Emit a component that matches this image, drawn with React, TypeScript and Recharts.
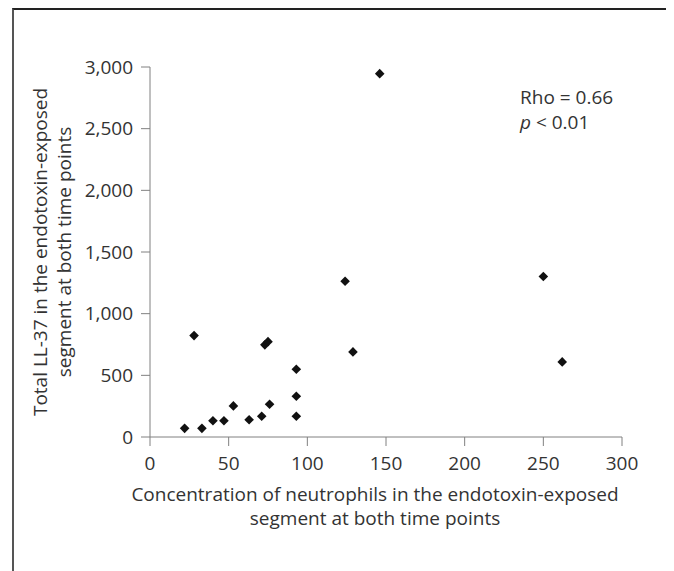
import React from "react";
import { ScatterChart, Scatter, XAxis, YAxis, Customized } from "recharts";

const neutrophils = [22, 28, 33, 40, 47, 53, 63, 71, 73, 75, 76, 93, 93, 93, 146, 124, 129, 250, 262];
const ll37 = [70, 822, 70, 132, 132, 252, 140, 168, 747, 773, 265, 549, 330, 168, 2946, 1263, 690, 1301, 609];
const xTicks = [0, 50, 100, 150, 200, 250, 300];
const yTicks = [0, 500, 1000, 1500, 2000, 2500, 3000];
const xLabelLines = ["Concentration of neutrophils in the endotoxin-exposed", "segment at both time points"];
const yLabelLines = ["Total LL-37 in the endotoxin-exposed", "segment at both time points"];
const rhoText = "Rho = 0.66";
const pText = ["p", " < 0.01"];

const data = neutrophils.map((x, i) => ({ x, y: ll37[i] }));

const FONT = "'Open Sans', 'Noto Sans', sans-serif";
const TEXT = "#333333";
const AXIS = "#808080";
const FS = 19;

const Diamond = (props: any) => {
  const { cx, cy } = props;
  const r = 4.8;
  return <path d={`M${cx},${cy - r}L${cx + r},${cy}L${cx},${cy + r}L${cx - r},${cy}Z`} fill="#111" />;
};

const Texts = () => (
  <g fontFamily={FONT} fill={TEXT}>
    <text x={367} y={486} textAnchor="middle" dominantBaseline="central" fontSize={FS}>{xLabelLines[0]}</text>
    <text x={367} y={510} textAnchor="middle" dominantBaseline="central" fontSize={FS}>{xLabelLines[1]}</text>
    <text transform="translate(32,244) rotate(-90)" textAnchor="middle" dominantBaseline="central" fontSize={FS}>{yLabelLines[0]}</text>
    <text transform="translate(56,244) rotate(-90)" textAnchor="middle" dominantBaseline="central" fontSize={FS}>{yLabelLines[1]}</text>
    <text x={512} y={89} dominantBaseline="central" fontSize={FS}>{rhoText}</text>
    <text x={512} y={114} dominantBaseline="central" fontSize={FS}>
      <tspan fontStyle="italic">{pText[0]}</tspan>
      <tspan>{pText[1]}</tspan>
    </text>
  </g>
);

export default function App() {
  return (
    <div style={{ position: "relative", width: 666, height: 563 }}>
      <div
        style={{
          position: "absolute",
          left: 4,
          top: 0,
          width: 661,
          height: 600,
          borderTop: "2px solid #222",
          borderLeft: "2px solid #555",
          borderRight: "1.5px solid #888",
          boxSizing: "border-box",
        }}
      />
      <ScatterChart width={666} height={563} margin={{ top: 59, right: 52, bottom: 0, left: 0 }} style={{ position: "absolute", left: 0, top: 0 }}>
        <XAxis
          type="number"
          dataKey="x"
          domain={[0, 300]}
          ticks={xTicks}
          height={134}
          tickSize={9}
          tickMargin={11}
          stroke={AXIS}
          tick={{ fill: TEXT, fontSize: FS, fontFamily: FONT }}
          tickLine={{ stroke: AXIS }}
          axisLine={{ stroke: AXIS }}
        />
        <YAxis
          type="number"
          dataKey="y"
          domain={[0, 3000]}
          ticks={yTicks}
          width={142}
          tickSize={9}
          tickMargin={8}
          stroke={AXIS}
          tickFormatter={(v: number) => v.toLocaleString("en-US")}
          tick={{ fill: TEXT, fontSize: FS, fontFamily: FONT }}
          tickLine={{ stroke: AXIS }}
          axisLine={{ stroke: AXIS }}
        />
        <Scatter data={data} shape={<Diamond />} isAnimationActive={false} />
        <Customized component={Texts} />
      </ScatterChart>
    </div>
  );
}
